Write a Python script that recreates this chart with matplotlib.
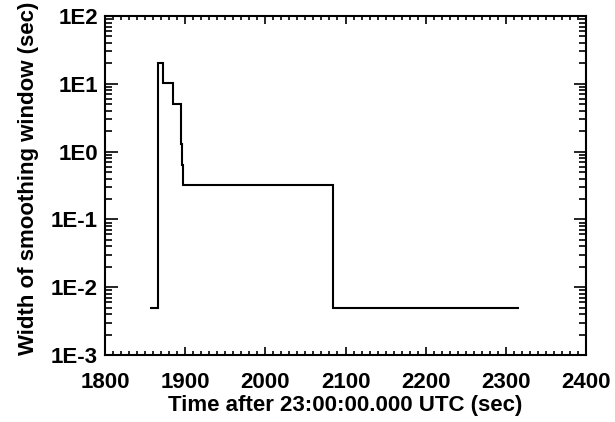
import matplotlib
matplotlib.use("Agg")
import matplotlib.pyplot as plt
from matplotlib.ticker import MultipleLocator, LogLocator, FixedLocator

plt.rcParams['font.family'] = ['Liberation Sans', 'DejaVu Sans']
plt.rcParams['font.weight'] = 'bold'

# step edges (sec after 23:00) and smoothing window width in each interval
t_edges = [1856, 1866.5, 1872, 1885, 1894.5, 1895.3, 1896, 1897.7, 2085, 2317]
width = [0.005, 20.48, 10.24, 5.12, 2.56, 1.28, 0.64, 0.32, 0.005]

y_ticks = [1e-3, 1e-2, 1e-1, 1e0, 1e1, 1e2]
y_labels = ['1E-3', '1E-2', '1E-1', '1E0', '1E1', '1E2']

fig = plt.figure(figsize=(6.15, 4.22), dpi=100)
ax = fig.add_axes([105 / 615, 67 / 422, 481 / 615, 339 / 422])

ax.stairs(width, t_edges, color='black', linewidth=1.5, baseline=None)

ax.set_xlim(1800, 2400)
ax.set_yscale('log')
ax.set_ylim(1e-3, 1e2)

ax.xaxis.set_major_locator(MultipleLocator(100))
ax.xaxis.set_minor_locator(MultipleLocator(10))
ax.yaxis.set_major_locator(FixedLocator(y_ticks))
ax.set_yticklabels(y_labels)
ax.yaxis.set_minor_locator(LogLocator(base=10, subs=range(2, 10)))

ax.tick_params(which='both', direction='in', top=True, right=True, width=1.2)
ax.tick_params(axis='x', which='major', length=6, labelsize=16, pad=12)
ax.tick_params(axis='x', which='minor', length=3)
ax.tick_params(axis='y', which='major', length=9, labelsize=16, pad=5)
ax.tick_params(axis='y', which='minor', length=5)
for sp in ax.spines.values():
    sp.set_linewidth(1.5)

ax.set_xlabel('Time after 23:00:00.000 UTC (sec)', fontsize=16, fontweight='bold')
ax.set_ylabel('Width of smoothing window (sec)', fontsize=16, fontweight='bold')
ax.xaxis.set_label_coords(0.5, -0.118)
ax.yaxis.set_label_coords(-0.137, 0.52)

fig.savefig('out.png', dpi=100)
